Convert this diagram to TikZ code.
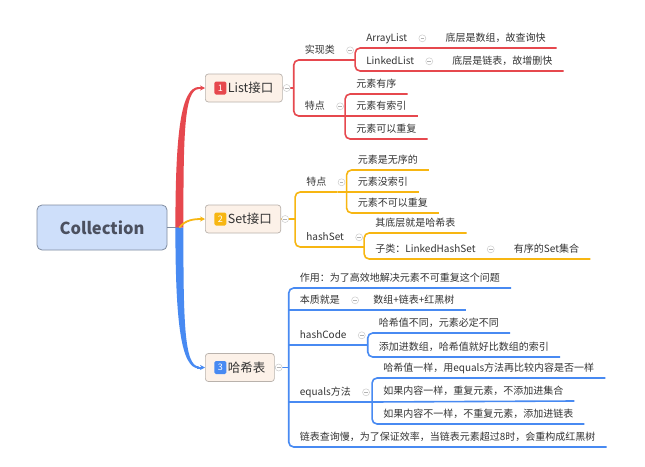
\documentclass[tikz,border=0pt]{standalone}
\usepackage{fontspec}
\setmainfont{Noto Sans CJK SC}
\usetikzlibrary{arrows.meta, positioning}

\definecolor{mmtext}{RGB}{51,51,51}
\definecolor{rootfill}{RGB}{206,223,250}
\definecolor{rootline}{RGB}{128,140,160}
\definecolor{roottext}{RGB}{75,80,95}
\definecolor{boxfill}{RGB}{252,241,232}
\definecolor{boxline}{RGB}{185,178,172}
\definecolor{mmred}{RGB}{230,72,78}
\definecolor{mmyellow}{RGB}{247,182,18}
\definecolor{mmblue}{RGB}{72,138,242}

\newcommand{\mmbadge}[2]{\tikz[baseline={([yshift=-4.6pt]b.center)}]\node[fill=#1, text=white, rounded corners=1.5pt, minimum width=12pt, minimum height=13pt, inner sep=0pt, font=\fontsize{9}{9}\selectfont] (b) {#2};\hspace{1.5pt}}

\begin{document}
\begin{tikzpicture}[
    x=1pt, y=1pt,
    root/.style={rectangle, rounded corners=5pt, draw=rootline, fill=rootfill, line width=0.8pt, minimum width=130pt, minimum height=45pt, font=\fontsize{16.5}{20}\selectfont\bfseries, text=roottext},
    branch/.style={rectangle, rounded corners=3pt, draw=boxline, fill=boxfill, line width=0.7pt, minimum height=28pt, inner xsep=9pt, anchor=west, font=\fontsize{12.5}{14}\selectfont, text=mmtext},
    topic/.style={anchor=south west, inner xsep=11pt, inner ysep=4.5pt, text height=8pt, text depth=2pt, font=\fontsize{10}{12}\selectfont, text=mmtext},
    fold/.style={circle, draw=gray!40, fill=white, line width=0.5pt, minimum size=7pt, inner sep=0pt,
        path picture={\draw[gray!60, line width=0.6pt] ([xshift=-1.8pt]path picture bounding box.center) -- ([xshift=1.8pt]path picture bounding box.center);}},
    link/.style={line width=1.6pt, rounded corners=5pt},
    tip/.style={line width=2pt, -{Stealth[length=5pt, width=5pt]}},
]
    \path[use as bounding box, fill=white] (0,0) rectangle (645,-466);

    % Root and main branches
    \node[root] (root) at (102,-227.5) {Collection};
    \node[branch] (list) at (205,-88) {\mmbadge{mmred}{1}List接口};
    \node[branch] (set) at (205,-219) {\mmbadge{mmyellow}{2}Set接口};
    \node[branch] (hash) at (205,-367.5) {\mmbadge{mmblue}{3}哈希表};
    \coordinate (hub) at ([xshift=12pt]root.east);

    \draw[rootline, line width=1.5pt] (root.east) -- (hub);
    \fill[mmred] ([xshift=-4pt]hub) .. controls +(0,95) and +(-18,0) .. ([xshift=-6pt, yshift=1pt]list.west)
        -- ([xshift=-6pt, yshift=-1pt]list.west) .. controls +(-15,0) and +(0,92) .. ([xshift=4pt]hub) -- cycle;
    \draw[tip, mmred] ([xshift=-8pt]list.west) -- (list.west);
    \fill[mmblue] ([xshift=-4pt]hub) .. controls +(0,-95) and +(-18,0) .. ([xshift=-6pt, yshift=-1pt]hash.west)
        -- ([xshift=-6pt, yshift=1pt]hash.west) .. controls +(-15,0) and +(0,-92) .. ([xshift=4pt]hub) -- cycle;
    \draw[tip, mmblue] ([xshift=-8pt]hash.west) -- (hash.west);
    \draw[tip, mmyellow, line width=1.8pt] (hub) .. controls +(6,8) and +(-10,0) .. (set.west);

    % List
    \node[topic] (impl) at ([xshift=11pt, yshift=28pt]list.east) {实现类};
    \node[topic] (lfeat) at ([xshift=11pt, yshift=-28pt]list.east) {特点};
    \draw[link, mmred] (impl.south east) -- (impl.south west) -- (lfeat.south west) -- (lfeat.south east);
    \draw[link, mmred] (list.east) -- (list.east -| impl.south west);

    \node[topic] (arr) at ([xshift=9pt, yshift=12pt]impl.south east) {ArrayList};
    \node[topic] (lnk) at ([xshift=9pt, yshift=-11pt]impl.south east) {LinkedList};
    \node[topic] (arrc) at ([xshift=16pt]arr.south east) {底层是数组，故查询快};
    \node[topic] (lnkc) at ([xshift=16pt]lnk.south east) {底层是链表，故增删快};
    \draw[link, mmred] (arrc.south east) -- (arr.south west) -- (lnk.south west) -- (lnkc.south east);
    \draw[link, mmred] (impl.south east) -- (impl.south east -| arr.south west);

    \node[topic] (ord) at ([xshift=9pt, yshift=22pt]lfeat.south east) {元素有序};
    \node[topic] (idx) at ([xshift=9pt]lfeat.south east) {元素有索引};
    \node[topic] (rep) at ([xshift=9pt, yshift=-23pt]lfeat.south east) {元素可以重复};
    \draw[link, mmred] (ord.south east) -- (ord.south west) -- (rep.south west) -- (rep.south east);
    \draw[link, mmred] (lfeat.south east) -- (idx.south east);

    % Set
    \node[topic] (sfeat) at ([xshift=14pt, yshift=27pt]set.east) {特点};
    \node[topic] (hset) at ([xshift=14pt, yshift=-28pt]set.east) {hashSet};
    \draw[link, mmyellow] (sfeat.south east) -- (sfeat.south west) -- (hset.south west) -- (hset.south east);
    \draw[link, mmyellow] (set.east) -- (set.east -| sfeat.south west);

    \node[topic] (unord) at ([xshift=9pt, yshift=22pt]sfeat.south east) {元素是无序的};
    \node[topic] (noidx) at ([xshift=9pt]sfeat.south east) {元素没索引};
    \node[topic] (norep) at ([xshift=9pt, yshift=-21pt]sfeat.south east) {元素不可以重复};
    \draw[link, mmyellow] (unord.south east) -- (unord.south west) -- (norep.south west) -- (norep.south east);
    \draw[link, mmyellow] (sfeat.south east) -- (noidx.south east);

    \node[topic] (base) at ([xshift=9pt, yshift=14pt]hset.south east) {其底层就是哈希表};
    \node[topic] (sub) at ([xshift=9pt, yshift=-12pt]hset.south east) {子类：LinkedHashSet};
    \node[topic] (subc) at ([xshift=16pt]sub.south east) {有序的Set集合};
    \draw[link, mmyellow] (base.south east) -- (base.south west) -- (sub.south west) -- (subc.south east);
    \draw[link, mmyellow] (hset.south east) -- (hset.south east -| base.south west);

    % Hash table
    \node[topic] (use) at ([xshift=14pt, yshift=79.5pt]hash.east) {作用：为了高效地解决元素不可重复这个问题};
    \node[topic] (ess) at ([xshift=14pt, yshift=57.5pt]hash.east) {本质就是};
    \node[topic] (hcode) at ([xshift=14pt, yshift=22.5pt]hash.east) {hashCode};
    \node[topic] (eq) at ([xshift=14pt, yshift=-34.5pt]hash.east) {equals方法};
    \node[topic] (slow) at ([xshift=14pt, yshift=-79.5pt]hash.east) {链表查询慢，为了保证效率，当链表元素超过8时，会重构成红黑树};
    \draw[link, mmblue] (use.south east) -- (use.south west) -- (slow.south west) -- (slow.south east);
    \draw[link, mmblue] (ess.south west) -- (ess.south east);
    \draw[link, mmblue] (hcode.south west) -- (hcode.south east);
    \draw[link, mmblue] (eq.south west) -- (eq.south east);
    \draw[link, mmblue] (hash.east) -- (hash.east -| use.south west);

    \node[topic] (essc) at ([xshift=11pt]ess.south east) {数组+链表+红黑树};
    \draw[link, mmblue] (ess.south east) -- (essc.south east);

    \node[topic] (diff) at ([xshift=10pt, yshift=12pt]hcode.south east) {哈希值不同，元素必定不同};
    \node[topic] (slot) at ([xshift=10pt, yshift=-12pt]hcode.south east) {添加进数组，哈希值就好比数组的索引};
    \draw[link, mmblue] (diff.south east) -- (diff.south west) -- (slot.south west) -- (slot.south east);
    \draw[link, mmblue] (hcode.south east) -- (hcode.south east -| diff.south west);

    \node[topic] (same) at ([xshift=10pt, yshift=24pt]eq.south east) {哈希值一样，用equals方法再比较内容是否一样};
    \node[topic] (dup) at ([xshift=10pt, yshift=1pt]eq.south east) {如果内容一样，重复元素，不添加进集合};
    \node[topic] (nodup) at ([xshift=10pt, yshift=-22pt]eq.south east) {如果内容不一样，不重复元素，添加进链表};
    \draw[link, mmblue] (same.south east) -- (same.south west) -- (nodup.south west) -- (nodup.south east);
    \draw[link, mmblue] (eq.south east) -- (eq.south east -| dup.south west) -- (dup.south east);

    % Fold markers
    \foreach \n in {list, set, hash, impl, lfeat, arr, lnk, sfeat, hset, sub, ess, hcode, eq}
        \node[fold] at ([xshift=4pt]\n.east) {};
\end{tikzpicture}
\end{document}
